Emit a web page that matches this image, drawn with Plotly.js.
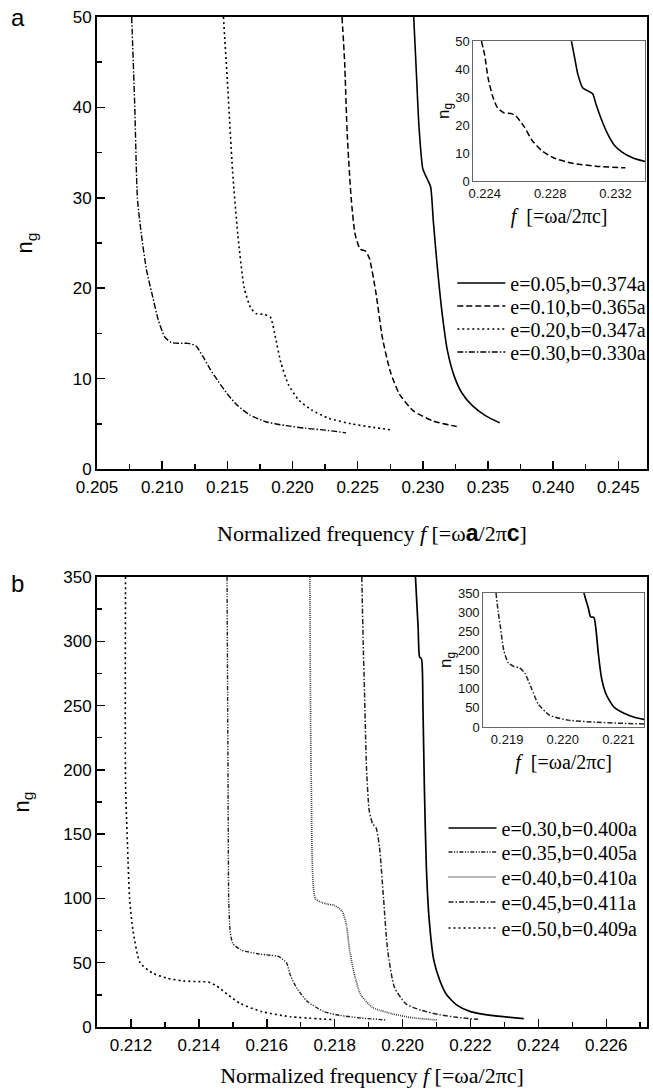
<!DOCTYPE html>
<html><head><meta charset="utf-8">
<script src="https://cdn.plot.ly/plotly-3.0.1.min.js"></script>
<style>html,body{margin:0;padding:0;background:#fff}#c{width:653px;height:1091px}</style>
</head><body><div id="c"></div>
<script>
// ---------- Panel a data ----------
const a_names = ['e=0.05,b=0.374a','e=0.10,b=0.365a','e=0.20,b=0.347a','e=0.30,b=0.330a'];
const a1_f = [0.2293,0.2295,0.2297,0.2300,0.2303,0.2306,0.2308,0.2311,0.2315,0.2319,0.2324,0.2330,0.2338,0.2348,0.2359];
const a1_n = [50,44,38,33.2,32.2,31.2,27.5,22.5,17,13,10.3,8.4,7,5.9,5.1];
const a2_f = [0.2238,0.2240,0.2242,0.2245,0.2248,0.2252,0.2256,0.2259,0.2264,0.2269,0.2275,0.2282,0.2293,0.2308,0.2326];
const a2_n = [50,45,37,30,26,24.3,24.1,23.3,19.5,14.5,10.8,8.3,6.4,5.3,4.7];
const a3_f = [0.2147,0.2150,0.2154,0.2158,0.2163,0.2168,0.2172,0.2178,0.2183,0.2187,0.2191,0.2197,0.2205,0.2215,0.2228,0.2245,0.2262,0.2277];
const a3_n = [50,43,33,26,20,17.8,17.2,17.1,16.8,14.5,11.8,9.3,7.6,6.5,5.6,5,4.6,4.3];
const a4_f = [0.20766,0.2079,0.2081,0.2084,0.2088,0.2092,0.2097,0.2102,0.2107,0.2113,0.2120,0.2126,0.2131,0.2137,0.2143,0.2150,0.2158,0.2167,0.2180,0.2195,0.2210,0.2225,0.2241];
const a4_n = [50,40,30,26,22,19.5,16.5,14.6,14,13.9,13.9,13.6,12.5,11,9.7,8.3,7,6,5.2,4.8,4.5,4.3,4.0];

// ---------- Panel b data ----------
const b_names = ['e=0.30,b=0.400a','e=0.35,b=0.405a','e=0.40,b=0.410a','e=0.45,b=0.411a','e=0.50,b=0.409a'];
const b1_f = [0.22038,0.22042,0.22046,0.22050,0.22056,0.22060,0.22064,0.22070,0.22078,0.22092,0.22110,0.22130,0.22160,0.22200,0.22260,0.22357];
const b1_n = [350,330,310,288,286,250,190,125,85,52,36,25,17,12,9,6.5];
const b2_f = [0.21483,0.21486,0.21488,0.21492,0.21500,0.21524,0.21573,0.21610,0.21634,0.21658,0.21670,0.21689,0.21719,0.21768,0.21816,0.21877,0.21950];
const b2_n = [350,192,100,75,65,60,57,55.8,55,50,40,30,20,12,9,7,5.5];
const b3_f = [0.21727,0.21731,0.21743,0.21761,0.21780,0.21800,0.21822,0.21834,0.21844,0.21859,0.21877,0.21913,0.21974,0.22035,0.22102];
const b3_n = [350,192,100,97,95.5,94.5,90,80,60,40,25,15,10,7,5.5];
const b4_f = [0.21880,0.21884,0.21888,0.21894,0.21902,0.21912,0.21922,0.21932,0.21944,0.21956,0.21976,0.22010,0.22055,0.22110,0.22160,0.22223];
const b4_n = [350,300,260,200,168,158,155,140,100,60,31,18,13,9.5,7.5,6];
const b5_f = [0.21184,0.21184,0.21190,0.21196,0.21206,0.21227,0.21263,0.21306,0.21354,0.21400,0.21427,0.21452,0.21486,0.21524,0.21585,0.21670,0.21798];
const b5_n = [350,190,140,100,75,50,42,38,35.8,35.3,35,32,25,18,12,8,5.7];

const xTitleA = 'Normalized frequency <i>f</i> [=ω<span style="font-family:Liberation Sans;font-weight:bold;font-size:23px">a</span>/2π<span style="font-family:Liberation Sans;font-weight:bold;font-size:23px">c</span>]';
const xTitleB = 'Normalized frequency <i>f</i> [=ωa/2πc]';
const insetTitle = '<i>f</i>  [=ωa/2πc]';

const styA = [
  {color:'#000', width:1.6, dash:'solid'},
  {color:'#000', width:1.5, dash:'6px,3px'},
  {color:'#000', width:1.6, dash:'2px,3px'},
  {color:'#000', width:1.4, dash:'6px,2px,1.5px,2px'}
];
const styB = [
  {color:'#000', width:1.7, dash:'solid'},
  {color:'#222', width:1.4, dash:'4px,1.5px,1.2px,1.5px,1.2px,1.5px'},
  {color:'#444', width:1.7, dash:'1px,1px'},
  {color:'#222', width:1.5, dash:'5px,2px,1.5px,2px'},
  {color:'#000', width:1.6, dash:'2px,3px'}
];
const aF=[a1_f,a2_f,a3_f,a4_f], aN=[a1_n,a2_n,a3_n,a4_n];
const bF=[b1_f,b2_f,b3_f,b4_f,b5_f], bN=[b1_n,b2_n,b3_n,b4_n,b5_n];
function sp(s){return Object.assign({shape:'spline',smoothing:0.6},s);}

const traces=[];
const legA=['legend','legend2','legend3','legend4'];
const legB=['legend5','legend6','legend7','legend8','legend9'];
for(let i=0;i<4;i++) traces.push({x:aF[i],y:aN[i],name:a_names[i],mode:'lines',line:sp(styA[i]),xaxis:'x',yaxis:'y',legend:legA[i]});
traces.push({x:a1_f,y:a1_n,mode:'lines',line:sp(styA[0]),xaxis:'x2',yaxis:'y2',showlegend:false});
traces.push({x:a2_f,y:a2_n,mode:'lines',line:sp(styA[1]),xaxis:'x2',yaxis:'y2',showlegend:false});
for(let i=0;i<5;i++) traces.push({x:bF[i],y:bN[i],name:b_names[i],mode:'lines',line:sp(styB[i]),xaxis:'x3',yaxis:'y3',legend:legB[i]});
traces.push({x:b1_f,y:b1_n,mode:'lines',line:sp(styB[0]),xaxis:'x4',yaxis:'y4',showlegend:false});
traces.push({x:b4_f,y:b4_n,mode:'lines',line:sp(styB[3]),xaxis:'x4',yaxis:'y4',showlegend:false});

const tickF={family:'Liberation Sans, Arial',size:17,color:'#000'};
const insTickF={family:'Liberation Sans, Arial',size:13,color:'#111'};
const mainAx = {showline:true,linewidth:2,linecolor:'#000',mirror:true,ticks:'inside',ticklen:8,tickwidth:1.5,tickcolor:'#000',showgrid:false,zeroline:false,tickfont:tickF,fixedrange:true};
const insAx = {showline:true,linewidth:1,linecolor:'#666',mirror:true,ticks:'',showgrid:false,zeroline:false,tickfont:insTickF,fixedrange:true};
const serifT = s => ({family:'Liberation Serif',size:s,color:'#000'});
const sansT = s => ({family:'Liberation Sans, Arial',size:s,color:'#000'});

function leg(x,ypx){
  return {x:x,y:(1027-ypx)/1010,xref:'paper',yref:'paper',xanchor:'left',yanchor:'middle',bgcolor:'rgba(0,0,0,0)',borderwidth:0,
    font:serifT(20),itemwidth:48};
}

const layout={
  width:653,height:1091,
  margin:{l:97,r:2,t:17,b:64},
  paper_bgcolor:'#fff',plot_bgcolor:'#fff',
  showlegend:true,
  xaxis:Object.assign({},mainAx,{domain:[0,1],range:[0.205,0.2472],tick0:0.205,dtick:0.005,tickformat:'.3f',ticklabelstandoff:2,
    minor:{ticks:'inside',ticklen:5,dtick:0.0025,tickcolor:'#000',tickwidth:1.5},
    title:{text:xTitleA,font:serifT(22),standoff:29},anchor:'y'}),
  yaxis:Object.assign({},mainAx,{domain:[0.5525,1],range:[0,50],dtick:10,
    minor:{ticks:'inside',ticklen:5,dtick:5,tickcolor:'#000',tickwidth:1.5},
    title:{text:'n<sub>g</sub>',font:sansT(22),standoff:34},anchor:'x'}),
  xaxis2:Object.assign({},insAx,{domain:[0.6841,0.9964],range:[0.2233,0.2338],tick0:0.224,dtick:0.004,tickformat:'.3f',anchor:'y2',
    title:{text:insetTitle,font:serifT(20),standoff:9}}),
  yaxis2:Object.assign({},insAx,{domain:[0.8376,0.9762],range:[0,50],dtick:10,anchor:'x2',
    title:{text:'n<sub>g</sub>',font:sansT(17),standoff:0}}),
  xaxis3:Object.assign({},mainAx,{domain:[0,1],range:[0.2110,0.2272],tick0:0.212,dtick:0.002,tickformat:'.3f',ticklabelstandoff:2,
    minor:{ticks:'inside',ticklen:5,dtick:0.001,tickcolor:'#000',tickwidth:1.5},
    title:{text:xTitleB,font:serifT(22),standoff:13},anchor:'y3'}),
  yaxis3:Object.assign({},mainAx,{domain:[0,0.4455],range:[0,350],dtick:50,
    minor:{ticks:'inside',ticklen:5,dtick:25,tickcolor:'#000',tickwidth:1.5},
    title:{text:'n<sub>g</sub>',font:sansT(22),standoff:28},anchor:'x3'}),
  xaxis4:Object.assign({},insAx,{domain:[0.7022,0.9946],range:[0.21857,0.22146],tick0:0.219,dtick:0.001,tickformat:'.3f',anchor:'y4',
    title:{text:insetTitle,font:serifT(20),standoff:9}}),
  yaxis4:Object.assign({},insAx,{domain:[0.2970,0.4297],range:[0,350],dtick:50,anchor:'x4',
    title:{text:'n<sub>g</sub>',font:sansT(17),standoff:0}}),
  legend:leg(0.646,283), legend2:leg(0.646,306), legend3:leg(0.646,329), legend4:leg(0.646,352),
  legend5:leg(0.63,828), legend6:leg(0.63,852), legend7:leg(0.63,877), legend8:leg(0.63,902), legend9:leg(0.63,928),
  annotations:[
    {text:'a',xref:'paper',yref:'paper',x:-0.1444,y:1.0,xanchor:'center',yanchor:'middle',showarrow:false,font:sansT(24)},
    {text:'b',xref:'paper',yref:'paper',x:-0.1444,y:0.4396,xanchor:'center',yanchor:'middle',showarrow:false,font:sansT(24)}
  ]
};
Plotly.newPlot('c',traces,layout,{displayModeBar:false,staticPlot:true});
</script></body></html>
